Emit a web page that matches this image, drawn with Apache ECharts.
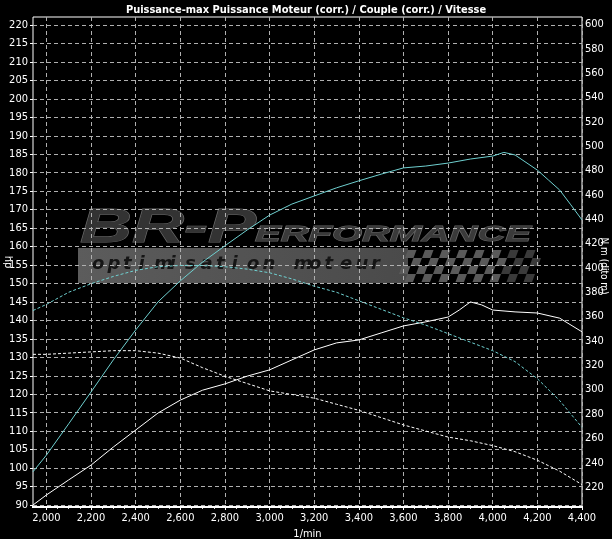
<!DOCTYPE html>
<html><head><meta charset="utf-8">
<script src="https://cdn.jsdelivr.net/npm/echarts@6/dist/echarts.min.js"></script>
<style>html,body{margin:0;padding:0;background:#000}#c{width:612px;height:539px}</style>
</head><body><div id="c"></div>
<script>
const titleText = 'Puissance-max Puissance Moteur (corr.) / Couple (corr.) / Vitesse';
const xName = '1/min';
const leftName = 'hp';
const rightName = 'N m (dito m)';

const powerAfterRpm = [1940,2000,2100,2200,2300,2400,2500,2600,2700,2800,2900,3000,3100,3200,3300,3400,3500,3600,3700,3800,3900,4000,4050,4100,4200,4250,4300,4350,4400];
const powerAfter    = [99,103.5,112,120.6,129.3,137.4,145,150.7,155.8,160.2,164.5,168.5,171.5,173.7,175.9,177.8,179.6,181.3,181.8,182.6,183.7,184.5,185.5,184.8,180.7,178,175.3,171.3,167.2];

const powerBeforeRpm = [1940,2000,2100,2200,2300,2400,2500,2600,2700,2800,2900,3000,3100,3200,3300,3400,3500,3600,3700,3800,3850,3900,3950,4000,4100,4200,4300,4400];
const powerBefore    = [90,92.7,96.8,100.8,105.7,110.3,114.9,118.4,121.1,122.8,124.9,126.6,129.3,132,133.9,134.7,136.6,138.5,139.6,140.9,142.8,145,144.2,142.8,142.3,142,140.6,136.9];

const torqueRpm    = [1940,2000,2100,2200,2300,2400,2500,2600,2700,2800,2900,3000,3100,3200,3300,3400,3500,3600,3700,3800,3900,4000,4100,4200,4300,4400];
const torqueAfter  = [365,370,380,387,393,398,401,402,402,401,399,396,391,385,380,373,366,359,353,346,339,332,323,309,291,269];
const torqueBefore = [329,329,330,331,332,332,330,326,318,311,305,299,296,293,288,283,277,271,266,261,258,254,249,242,233,222];

const hpMin = 90, hpMax = 220, hpStep = 5;
const nmMin = 220, nmMax = 600, nmStep = 20;
const rpmMin = 2000, rpmMax = 4400, rpmStep = 200, rpmDataStart = 1940;

const FONT = '"Liberation Sans Narrow","DejaVu Sans Condensed","Liberation Sans",sans-serif';
const pairs = (xs, ys) => xs.map((x, i) => [x, ys[i]]);

// plot frame geometry
const L = 33, R = 582, T = 17, B = 507;
const hpTop = 25, hpBottom = 505;
const nmTop = 24.5, nmBottom = 487;
const pxPerRpm = (R - L) / (rpmMax - rpmDataStart);
const xGridLeft = L + (rpmMin - rpmDataStart) * pxPerRpm;

const gridLine = {show: true, lineStyle: {color: '#b0b0b0', type: [4, 3], width: 1}};
const hidden = {show: false};

// watermark (decorative), frame bottom and axis names
const wm = [];
wm.push({type: 'rect', z: -10, shape: {x: 78, y: 248, width: 330, height: 35},
  style: {fill: {type: 'linear', x: 0, y: 0, x2: 1, y2: 0, colorStops: [{offset: 0, color: '#5c5c5c'}, {offset: 1, color: '#4a4a4a'}]}}});
for (let r = 0; r < 4; r++) {
  for (let c = 0; c < 16; c++) {
    if ((r + c) % 2) continue;
    const x0 = 405 + c * 8.5 - r * 3, y0 = 250 + r * 8;
    wm.push({type: 'polygon', z: -10, shape: {points: [[x0 + 3, y0], [x0 + 11.5, y0], [x0 + 8.5, y0 + 8], [x0, y0 + 8]]},
      style: {fill: c > 11 ? '#3a3a3a' : '#5a5a5a'}});
  }
}
wm.push({type: 'text', z: -9, x: 80, y: 205, scaleX: 1.5, style: {text: 'BR-P', font: 'italic bold 48px "Liberation Sans",sans-serif', fill: '#333', stroke: '#6a6a6a', lineWidth: 1}});
wm.push({type: 'text', z: -9, x: 255, y: 224, scaleX: 1.75, style: {text: 'ERFORMANCE', font: 'italic bold 22px "Liberation Sans",sans-serif', fill: '#3a3a3a', stroke: '#666', lineWidth: 1}});
const tag = 'optimisation moteur';
for (let i = 0; i < tag.length; i++) {
  wm.push({type: 'text', z: -9, x: 92 + i * 15.5, y: 255, style: {text: tag[i], font: 'italic bold 18px "DejaVu Sans",sans-serif', fill: '#151515'}});
}
wm.push({type: 'line', z: 10, shape: {x1: L - 1, y1: B, x2: R + 1, y2: B}, style: {stroke: '#fff', lineWidth: 2}});
wm.push({type: 'text', x: 8, y: 262, rotation: -Math.PI / 2, style: {text: leftName, fill: '#fff', font: '11px ' + FONT, align: 'center', verticalAlign: 'middle'}});
wm.push({type: 'text', x: 604, y: 266, rotation: -Math.PI / 2, style: {text: rightName, fill: '#fff', font: '10px ' + FONT, align: 'center', verticalAlign: 'middle'}});

const chart = echarts.init(document.getElementById('c'), null, {renderer: 'canvas'});
const gb = {outerBoundsMode: 'none', containLabel: false};
chart.setOption({
  backgroundColor: '#000',
  animation: false,
  title: {text: titleText, left: 'center', top: 0, textStyle: {color: '#fff', fontSize: 11, fontWeight: 'bold', fontFamily: FONT}},
  graphic: {elements: wm},
  grid: [
    Object.assign({left: L, top: T, width: R - L, height: B - T, show: true, borderColor: '#fff', borderWidth: 1, backgroundColor: 'transparent'}, gb),
    Object.assign({left: L, top: hpTop, width: R - L, height: hpBottom - hpTop}, gb),
    Object.assign({left: L, top: nmTop, width: R - L, height: nmBottom - nmTop}, gb),
    Object.assign({left: xGridLeft, top: T, width: R - xGridLeft, height: B - T}, gb)
  ],
  xAxis: [
    {gridIndex: 0, type: 'value', min: 0, max: 1, show: false},
    {gridIndex: 1, type: 'value', min: rpmDataStart, max: rpmMax, show: false},
    {gridIndex: 2, type: 'value', min: rpmDataStart, max: rpmMax, show: false},
    {gridIndex: 3, type: 'value', min: rpmMin, max: rpmMax, interval: rpmStep,
      name: xName, nameLocation: 'middle', nameGap: 20,
      nameTextStyle: {color: '#fff', fontSize: 11, fontFamily: FONT, padding: [0, 0, 0, -(xGridLeft - L)]},
      axisLine: hidden,
      axisTick: {show: true, length: 3, lineStyle: {color: '#fff'}},
      minorTick: {show: true, splitNumber: 4, length: 2, lineStyle: {color: '#ddd'}},
      axisLabel: {color: '#fff', fontSize: 11, fontFamily: FONT, margin: 6, formatter: v => v.toLocaleString('en-US')},
      splitLine: gridLine}
  ],
  yAxis: [
    {gridIndex: 0, type: 'value', min: 0, max: 1, show: false},
    {gridIndex: 1, type: 'value', min: hpMin, max: hpMax, interval: hpStep, position: 'left',
      axisLine: {show: false},
      axisTick: {show: true, length: 3, lineStyle: {color: '#fff'}},
      axisLabel: {color: '#fff', fontSize: 11, fontFamily: FONT, margin: 5},
      splitLine: gridLine},
    {gridIndex: 2, type: 'value', min: nmMin, max: nmMax, interval: nmStep, position: 'right',
      axisLine: {show: false}, axisTick: {show: false},
      axisLabel: {color: '#fff', fontSize: 11, fontFamily: FONT, margin: 3},
      splitLine: hidden},
    {gridIndex: 3, type: 'value', min: 0, max: 1, show: false}
  ],
  series: [
    {name: 'Puissance (après)', type: 'line', xAxisIndex: 1, yAxisIndex: 1, data: pairs(powerAfterRpm, powerAfter),
      showSymbol: false, symbol: 'none', clip: false, lineStyle: {color: '#6fd0d0', width: 1}, z: 5},
    {name: 'Puissance (avant)', type: 'line', xAxisIndex: 1, yAxisIndex: 1, data: pairs(powerBeforeRpm, powerBefore),
      showSymbol: false, symbol: 'none', clip: false, lineStyle: {color: '#ffffff', width: 1}, z: 5},
    {name: 'Couple (après)', type: 'line', xAxisIndex: 2, yAxisIndex: 2, data: pairs(torqueRpm, torqueAfter),
      showSymbol: false, symbol: 'none', clip: false, lineStyle: {color: '#6fd0d0', width: 1, type: [3, 2]}, z: 5},
    {name: 'Couple (avant)', type: 'line', xAxisIndex: 2, yAxisIndex: 2, data: pairs(torqueRpm, torqueBefore),
      showSymbol: false, symbol: 'none', clip: false, lineStyle: {color: '#ffffff', width: 1, type: [3, 2]}, z: 5}
  ]
});
</script></body></html>
